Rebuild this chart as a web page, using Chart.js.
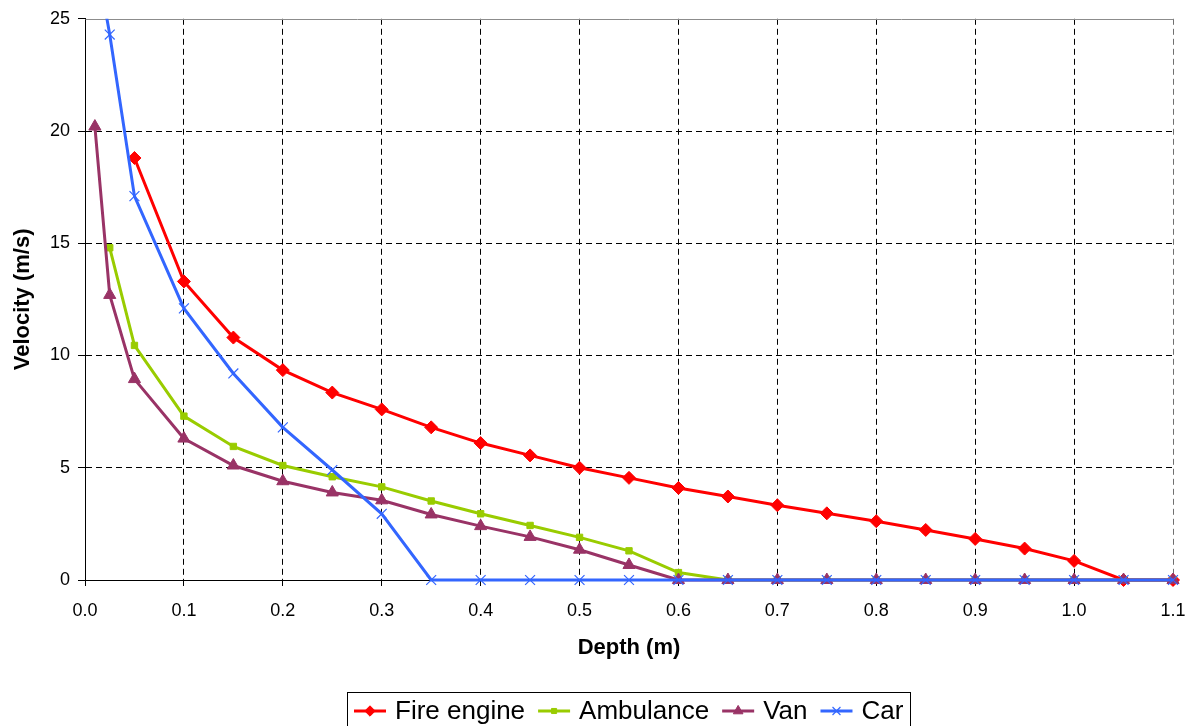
<!DOCTYPE html>
<html>
<head>
<meta charset="utf-8">
<script src="https://cdn.jsdelivr.net/npm/chart.js@4.4.1/dist/chart.umd.min.js"></script>
<style>
  html, body { margin: 0; padding: 0; background: #fff; }
  #wrap { width: 1187px; height: 726px; }
</style>
</head>
<body>
<div id="wrap"><canvas id="chart" width="1187" height="726"></canvas></div>
<script>
// depth (m) and velocity (m/s) for each vehicle
const depths     = [0.01, 0.025, 0.05, 0.1, 0.15, 0.2, 0.25, 0.3, 0.35, 0.4, 0.45, 0.5, 0.55, 0.6, 0.65, 0.7, 0.75, 0.8, 0.85, 0.9, 0.95, 1.0, 1.05, 1.1];
const fireEngine = [null, null, 18.8, 13.3, 10.8, 9.35, 8.35, 7.6, 6.8, 6.1, 5.55, 5.0, 4.55, 4.1, 3.72, 3.33, 2.97, 2.62, 2.23, 1.83, 1.4, 0.85, 0, 0];
const ambulance  = [null, 14.8, 10.45, 7.3, 5.95, 5.1, 4.6, 4.15, 3.52, 2.95, 2.43, 1.9, 1.3, 0.33, 0, 0, 0, 0, 0, 0, 0, 0, 0, 0];
const van        = [20.2, 12.7, 8.95, 6.3, 5.1, 4.4, 3.9, 3.55, 2.92, 2.4, 1.92, 1.35, 0.67, 0, 0, 0, 0, 0, 0, 0, 0, 0, 0, 0];
const car        = [28, 24.3, 17.1, 12.1, 9.2, 6.8, 4.9, 2.95, 0, 0, 0, 0, 0, 0, 0, 0, 0, 0, 0, 0, 0, 0, 0, 0];

const seriesNames = ['Fire engine', 'Ambulance', 'Van', 'Car'];
const FONT = "'Liberation Sans', Arial, sans-serif";

function toPoints(values) {
  return depths.map((d, i) => ({ x: d, y: values[i] })).filter(p => p.y !== null);
}

// later series are painted over earlier ones (lower order = drawn on top)
function makeSeries(idx, values, color, style, radius, pointBorder) {
  return {
    label: seriesNames[idx],
    data: toPoints(values),
    order: seriesNames.length - idx,
    borderColor: color,
    backgroundColor: color,
    borderWidth: 3,
    tension: 0,
    // let markers on the axis spill over, but cut the line at the top
    clip: { left: 10, right: 10, top: 0, bottom: 10 },
    pointStyle: style,
    pointRadius: radius,
    pointBorderWidth: pointBorder,
    pointBorderColor: color,
    pointBackgroundColor: color,
    pointHoverRadius: radius
  };
}

// gray frame on the top of the plot area
const plotFrame = {
  id: 'plotFrame',
  beforeDatasetsDraw(chart) {
    const { ctx, chartArea: a } = chart;
    ctx.save();
    ctx.strokeStyle = '#8c8c8c';
    ctx.lineWidth = 1;
    ctx.beginPath();
    ctx.moveTo(Math.round(a.left) + 0.5, Math.round(a.top) + 0.5);
    ctx.lineTo(Math.round(a.right) + 0.5, Math.round(a.top) + 0.5);
    ctx.stroke();
    ctx.restore();
  }
};

// boxed legend with line + marker samples, under the axis title
const boxLegend = {
  id: 'boxLegend',
  afterDraw(chart) {
    const { ctx, chartArea: a } = chart;
    const sets = chart.data.datasets;
    const sampleW = 32, sampleGap = 9, itemGap = 13, pad = 7;
    ctx.save();
    ctx.font = '26px ' + FONT;
    const widths = sets.map(ds => ctx.measureText(ds.label).width);
    let total = pad * 2 + itemGap * (sets.length - 1);
    widths.forEach(w => { total += sampleW + sampleGap + w; });
    const left = Math.round((a.left + a.right) / 2 - total / 2);
    const top = 692;
    const midY = 711;

    ctx.strokeStyle = '#000';
    ctx.lineWidth = 1;
    ctx.strokeRect(left + 0.5, top + 0.5, Math.round(total), 60);

    let x = left + pad;
    sets.forEach((ds, i) => {
      ctx.strokeStyle = ds.borderColor;
      ctx.fillStyle = ds.borderColor;
      ctx.lineWidth = 3;
      ctx.beginPath();
      ctx.moveTo(x, midY);
      ctx.lineTo(x + sampleW, midY);
      ctx.stroke();
      ctx.lineWidth = ds.pointBorderWidth;
      Chart.helpers.drawPoint(ctx, {
        pointStyle: ds.pointStyle,
        radius: ds.pointRadius * 0.8,
        borderWidth: ds.pointBorderWidth,
        rotation: 0
      }, x + sampleW / 2, midY);
      x += sampleW + sampleGap;
      ctx.fillStyle = '#000';
      ctx.textBaseline = 'middle';
      ctx.textAlign = 'left';
      ctx.fillText(ds.label, x, midY + 1);
      x += widths[i] + itemGap;
    });
    ctx.restore();
  }
};

const ctx = document.getElementById('chart').getContext('2d');
new Chart(ctx, {
  type: 'line',
  data: {
    datasets: [
      makeSeries(0, fireEngine, '#ff0000', 'rectRot', 6.5, 1),
      makeSeries(1, ambulance, '#99cc00', 'rect', 4.5, 1),
      makeSeries(2, van, '#993366', 'triangle', 7, 1),
      makeSeries(3, car, '#3366ff', 'crossRot', 7, 1.2)
    ]
  },
  options: {
    responsive: false,
    animation: false,
    events: [],
    layout: { padding: { left: 0, right: 14, top: 17, bottom: 60 } },
    plugins: {
      legend: { display: false },
      tooltip: { enabled: false }
    },
    scales: {
      x: {
        type: 'linear',
        min: 0,
        max: 1.1,
        afterFit: s => {
          s.height = 86;
          s.paddingLeft = 0;
          s.paddingRight = 0;
        },
        ticks: {
          stepSize: 0.1,
          autoSkip: false,
          maxRotation: 0,
          padding: 14,
          color: '#000',
          font: { family: FONT, size: 18 },
          callback: v => v.toFixed(1)
        },
        grid: {
          color: c => (c.tick && Math.abs(c.tick.value - 1.1) < 1e-6) ? '#707070' : '#000',
          lineWidth: 1,
          tickLength: 6,
          tickColor: '#000'
        },
        border: { color: '#000', width: 1, dash: [6, 4] },
        title: {
          display: true,
          text: 'Depth (m)',
          color: '#000',
          font: { family: FONT, size: 22, weight: 'bold' },
          padding: { top: 0, bottom: 5 }
        }
      },
      y: {
        min: 0,
        max: 25,
        afterFit: s => { s.width = 85; },
        ticks: {
          stepSize: 5,
          padding: 8,
          color: '#000',
          font: { family: FONT, size: 18 }
        },
        grid: {
          color: c => (c.tick && c.tick.value === 25) ? 'rgba(0,0,0,0)' : '#000',
          lineWidth: 1,
          tickLength: 7,
          tickColor: '#000'
        },
        border: { color: '#000', width: 1, dash: [6, 4] },
        title: {
          display: true,
          text: 'Velocity (m/s)',
          color: '#000',
          font: { family: FONT, size: 22, weight: 'bold' },
          padding: { top: 10, bottom: 0 }
        }
      }
    }
  },
  plugins: [plotFrame, boxLegend]
});
</script>
</body>
</html>
